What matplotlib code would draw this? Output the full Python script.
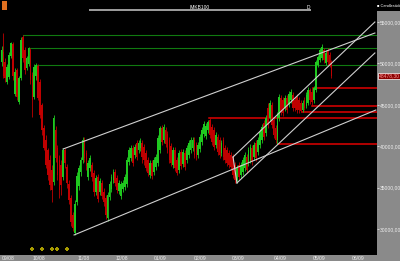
import matplotlib
matplotlib.use('Agg')
from matplotlib import pyplot as plt
from matplotlib.patches import Rectangle
import numpy as np

plt.rcParams['font.family'] = ['Liberation Sans', 'DejaVu Sans']

# daily bars, Sep 2008 - May 2009
opens = [50170, 51380, 50170, 47750, 48360, 50890, 52340, 46310, 49200, 45340,
         48240, 53190, 51620, 49440, 49930, 51620, 48600, 45940, 48480, 49690,
         47750, 44980, 42200, 40750, 39540, 38330, 37130, 35680, 41960, 39780,
         38330, 37730, 36280, 39540, 37490, 35440, 33750, 31690, 29520, 33260,
         35190, 36890, 38330, 40750, 39180, 36280, 37370, 37730, 36760, 34470,
         36280, 34470, 35560, 34470, 33750, 31330, 33870, 34830, 35920, 36880,
         36160, 34590, 33990, 34830, 35070, 35440, 38090, 38580, 39780, 38940,
         40390, 39540, 39780, 40390, 39900, 39180, 38330, 36520, 37970, 36880,
         37490, 37970, 39540, 42200, 40750, 41960, 41470, 40750, 40030, 37730,
         39540, 38330, 37130, 39300, 37850, 39180, 38330, 38940, 39540, 39780,
         40750, 40150, 38940, 39660, 40510, 41470, 41230, 41960, 43160, 42320,
         41960, 40150, 41110, 40750, 39180, 40750, 39780, 39540, 39180, 38940,
         38700, 37730, 35920, 37730, 36520, 36880, 37370, 38700, 37970, 38330,
         39780, 38700, 40390, 39300, 40150, 40750, 42800, 41600, 44610, 43410,
         44980, 43160, 42200, 40750, 43410, 45820, 45580, 44610, 45820, 45100,
         45580, 46180, 45580, 45940, 45580, 45220, 44370, 45580, 44860, 45220,
         46790, 46550, 45580, 46790, 49810, 50410, 50650, 51620, 50050, 51620,
         51020, 50170]
highs = [52100, 53670, 50650, 49930, 51380, 52590, 52590, 49440, 49440, 48480,
         53190, 53430, 51980, 50890, 51980, 51860, 48960, 49930, 50050, 49930,
         48120, 45220, 42560, 41350, 39780, 38940, 37730, 43770, 42440, 40150,
         38940, 38330, 39780, 39780, 37850, 35920, 34110, 32050, 33500, 36880,
         37730, 38700, 41110, 41110, 39540, 38330, 38940, 38090, 37130, 36520,
         36640, 36160, 35920, 34950, 34110, 34470, 35800, 36640, 37250, 37250,
         36520, 35920, 35800, 35920, 36640, 38700, 39900, 40150, 40150, 40270,
         40750, 40750, 40990, 40750, 40270, 39540, 38700, 38330, 38330, 38700,
         39060, 41350, 42440, 42560, 42680, 42320, 41840, 41110, 40390, 39900,
         39900, 38700, 39540, 39660, 39660, 39540, 40150, 40750, 41110, 41110,
         41110, 40510, 40510, 41470, 42320, 43040, 42800, 43160, 43410, 42680,
         42320, 41720, 41470, 41110, 40750, 41110, 40150, 39900, 39540, 39300,
         39060, 38090, 37730, 38090, 38090, 38700, 39300, 39060, 39900, 40270,
         40150, 40510, 40750, 41110, 42080, 42680, 43160, 43770, 45220, 45580,
         45340, 43530, 42560, 44130, 46310, 46180, 45940, 46180, 46180, 46670,
         46910, 46550, 45940, 46310, 45940, 45580, 45580, 45940, 46550, 47150,
         47030, 47030, 47270, 50410, 51020, 51860, 52340, 51860, 51620, 51860,
         51380, 50410]
lows = [49690, 48240, 47750, 47510, 48120, 50650, 48000, 46060, 45580, 45100,
        48000, 50170, 48720, 49200, 49690, 47510, 43530, 45700, 48000, 45580,
        43410, 41350, 39540, 37370, 35920, 34710, 33260, 35320, 38090, 35920,
        33750, 34110, 35920, 37370, 34950, 33020, 30360, 29760, 29280, 32900,
        34710, 36400, 37970, 38090, 37130, 35920, 37000, 35800, 33990, 34110,
        33260, 34110, 33620, 32780, 31210, 30970, 33500, 34470, 35560, 35190,
        34350, 34230, 33620, 34470, 34710, 35070, 37730, 38210, 37610, 38580,
        38330, 39180, 39420, 37970, 37730, 37000, 36400, 36160, 36040, 36520,
        37130, 37610, 39180, 40150, 40390, 39900, 39180, 37970, 37610, 37370,
        37000, 36520, 36760, 37250, 37490, 37130, 37970, 38580, 39180, 39420,
        38580, 38330, 38580, 39300, 40150, 41110, 40870, 41600, 40990, 40150,
        39540, 39780, 38940, 38580, 38820, 38330, 37970, 37610, 37370, 37130,
        36160, 35560, 35560, 35920, 36160, 36520, 37000, 36760, 37610, 37970,
        37730, 38330, 38210, 38940, 39780, 40390, 40750, 41230, 42200, 43040,
        42200, 40990, 40390, 40270, 43040, 43770, 43650, 44250, 44010, 44740,
        45220, 44250, 44250, 44010, 44010, 44130, 44130, 44370, 44610, 44980,
        45100, 44860, 45220, 46550, 49570, 50170, 50410, 50050, 49810, 49810,
        49570, 48240]
closes = [51620, 48480, 48240, 49570, 51020, 52460, 48480, 48960, 45940, 48240,
          52830, 50650, 49200, 50650, 51860, 48000, 45580, 49570, 49810, 45820,
          43770, 41960, 39780, 37730, 36520, 35320, 34710, 43410, 38580, 36520,
          34710, 35320, 39540, 37970, 35560, 33500, 30850, 30120, 33020, 36400,
          37370, 38330, 40750, 38580, 37610, 37970, 38580, 36280, 34470, 36160,
          33620, 35800, 33990, 33260, 31690, 34110, 35440, 36280, 36880, 35560,
          34710, 35560, 35440, 35560, 36280, 38330, 39540, 39780, 37970, 39900,
          38700, 40390, 40630, 38700, 38330, 37370, 36760, 37970, 36400, 38330,
          38700, 40990, 42200, 40510, 42320, 40270, 39540, 38330, 37970, 39540,
          37370, 36760, 39180, 37610, 39300, 37490, 39780, 40390, 40750, 40750,
          38940, 38700, 40150, 41110, 41960, 42680, 42440, 42920, 41350, 40510,
          39900, 41350, 39300, 38940, 40390, 38700, 38330, 37970, 37730, 37490,
          36520, 35920, 37370, 36280, 37730, 38330, 38940, 37130, 39540, 39900,
          38090, 40150, 38580, 40750, 41720, 42320, 41110, 43410, 42560, 45220,
          42560, 41350, 40750, 43770, 45940, 44130, 44010, 45820, 44370, 46310,
          46550, 44610, 44610, 44370, 44370, 44250, 45220, 44610, 46180, 46790,
          45580, 45340, 47030, 50170, 50770, 51620, 51980, 50410, 51260, 50170,
          49810, 48480]

last_price = '48478,30'

# drawn levels: price and first bar
green_levels = [53430, 51860, 49810]
green_starts = [11, 14, 18]
red_levels = [47030, 44855, 44130, 43410, 40266]
red_starts = [161.4, 161, 155.7, 107.5, 143.3]

# trend lines: (x0, p0, x1, p1) in bars / price
trend_lines = [
    (31.9, 39660, 193.5, 53670),
    (37.6, 29280, 194.0, 44370),
    (120.0, 38700, 193.5, 55000),
    (122.0, 35560, 193.5, 51260),
    (120.0, 38700, 122.0, 35560),
]

signal_x = [16, 21, 26, 29, 34]
signal_y = 27585

month_pos = [3.4, 19.4, 42.7, 62.4, 82.1, 102.8, 122.5, 144.3, 164.5, 184.7]
month_labels = ['09/08', '10/08', '11/08', '12/08', '01/09', '02/09',
                '03/09', '04/09', '05/09', '06/09']
price_ticks = [30000, 35000, 40000, 45000, 50000, 55000]

W, H = 400, 261
fig = plt.figure(figsize=(W / 100, H / 100), dpi=100, facecolor='black')

# gray frame parts, kept under the axes
panel = '#8a8a8a'
for r in [Rectangle((377 / W, 0), 23 / W, 250 / H),
          Rectangle((0, 0), 377 / W, 6 / H)]:
    r.set_transform(fig.transFigure)
    r.set_facecolor(panel)
    r.set_edgecolor('none')
    r.set_zorder(-5)
    fig.patches.append(r)
fig.patches.append(Rectangle((89 / W, 1 - 11 / H), 222 / W, 1.5 / H, transform=fig.transFigure,
                             facecolor='#9a9a9a', edgecolor='none', zorder=-5))
fig.patches.append(Rectangle((2 / W, 1 - 10 / H), 5 / W, 9 / H, transform=fig.transFigure,
                             facecolor='#e07020', edgecolor='none', zorder=-5))
fig.text(200 / W, 1 - 7.5 / H, 'IMKB100', color='white', fontsize=3.5, ha='center', va='center')
fig.text(308 / W, 1 - 7.5 / H, 'D', color='white', fontsize=3.5, ha='center', va='center')
fig.text(388.5 / W, 1 - 6 / H, '\u25a0 Candlestick', color='white', fontsize=2.8,
         ha='center', va='center')

ax = fig.add_axes([0, 6 / H, 377 / W, 244 / H])
ax.set_facecolor('black')
for s in ax.spines.values():
    s.set_visible(False)

x = np.arange(len(opens))
o = np.array(opens)
c = np.array(closes)
cols = np.where(c >= o, '#1fc81f', '#c00000')

# horizontal levels
x_right = 194.6
for lv, st in zip(green_levels, green_starts):
    ax.plot([st, x_right], [lv, lv], color='#107a10', lw=0.8, zorder=1)
for lv, st in zip(red_levels, red_starts):
    ax.plot([st, x_right], [lv, lv], color='#e00000', lw=1.1, zorder=1)

# candles
ax.vlines(x, lows, highs, colors=cols, lw=0.6, zorder=2)
ax.bar(x, c - o, bottom=o, width=0.9, color=cols, linewidth=0, zorder=3)

for x0, p0, x1, p1 in trend_lines:
    ax.plot([x0, x1], [p0, p1], color='#d0d0d0', lw=0.8, zorder=4)

ax.scatter(signal_x, [signal_y] * len(signal_x), marker='P', s=5, color='#a89c00',
           linewidths=0, zorder=4)

ax.set_xlim(-0.78, x_right)
ax.set_ylim(26861, 56329)

ax.yaxis.tick_right()
ax.set_yticks(price_ticks)
ax.set_yticklabels(['%d,00' % p for p in price_ticks])
ax.tick_params(axis='y', colors='#f0f0f0', labelsize=3.6, length=1.5, width=0.5, pad=0.6)
ax.set_xticks(month_pos)
ax.set_xticklabels(month_labels)
ax.tick_params(axis='x', colors='#f0f0f0', labelsize=3.6, length=0, pad=0.8)

ax.text(1.004, closes[-1], last_price, transform=ax.get_yaxis_transform(), fontsize=3.6,
        color='#ff9a9a', va='center', ha='left',
        bbox=dict(facecolor='#8a0000', edgecolor='white', pad=0.5, lw=0.5))

fig.savefig('out.png', dpi=100, facecolor='black')
